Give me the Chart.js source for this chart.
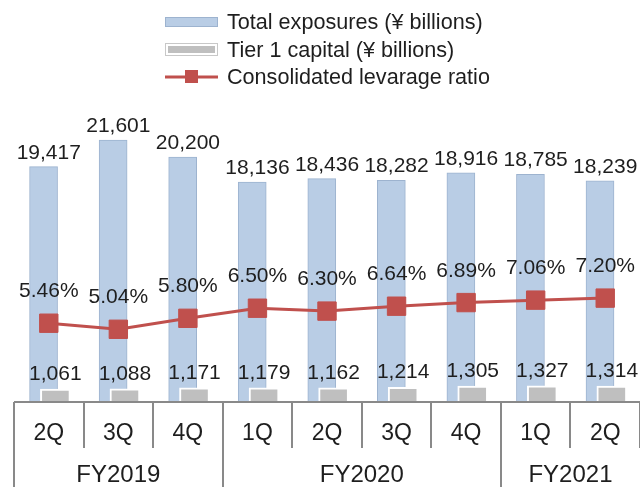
<!DOCTYPE html>
<html><head><meta charset="utf-8">
<script src="https://cdn.jsdelivr.net/npm/chart.js@4/dist/chart.umd.min.js"></script>
<style>
html,body{margin:0;padding:0;overflow:hidden;background:#fff;width:640px;height:487px}
#wrap{position:relative;width:654px;height:487px}
</style>
</head><body>
<div id="wrap"><canvas id="c" width="654" height="487"></canvas></div>
<script>
// ---- data ----
const quarters = ['2Q','3Q','4Q','1Q','2Q','3Q','4Q','1Q','2Q'];
const fiscalYearOf = ['FY2019','FY2019','FY2019','FY2020','FY2020','FY2020','FY2020','FY2021','FY2021'];
const totalExposures = [19417,21601,20200,18136,18436,18282,18916,18785,18239];
const tier1Capital = [1061,1088,1171,1179,1162,1214,1305,1327,1314];
const leverageRatio = [5.46,5.04,5.80,6.50,6.30,6.64,6.89,7.06,7.20];
const seriesNames = ['Total exposures (\u00a5 billions)','Tier 1 capital (\u00a5 billions)','Consolidated levarage ratio'];

// ---- styles ----
const BLUE='#B9CDE5', BLUE_EDGE='#9DB3CF', GRAY='#BFBFBF', RED='#C0504D', AXIS='#898989', TEXT='#1e1e1e';
const FONT='"Liberation Sans", Arial, sans-serif';
const BLUE_SHIFT=-0.075, GRAY_SHIFT=0.095;

const overlay = {
  id:'overlay',
  afterDatasetsDraw(chart){
    const {ctx, chartArea:a, scales:{x}} = chart;
    const mLine = chart.getDatasetMeta(0), mGray = chart.getDatasetMeta(1), mBlue = chart.getDatasetMeta(2);
    ctx.save();
    // axis line and dividers
    ctx.strokeStyle = AXIS; ctx.lineWidth = 2;
    ctx.beginPath(); ctx.moveTo(a.left, a.bottom); ctx.lineTo(chart.width, a.bottom); ctx.stroke();
    for (let k = 0; k <= quarters.length; k++) {
      const px = Math.round(x.getPixelForValue(k - 0.5));
      const longLine = k === 0 || (k < quarters.length && fiscalYearOf[k] !== fiscalYearOf[k-1]);
      ctx.beginPath(); ctx.moveTo(px, a.bottom); ctx.lineTo(px, longLine ? chart.height : a.bottom + 46); ctx.stroke();
    }
    ctx.fillStyle = TEXT; ctx.textAlign = 'center'; ctx.textBaseline = 'alphabetic';
    // quarter labels
    ctx.font = '23px ' + FONT;
    quarters.forEach((q,i)=> ctx.fillText(q, x.getPixelForValue(i), a.bottom + 38));
    // year labels
    ctx.font = '24px ' + FONT;
    let start = 0;
    for (let i = 1; i <= fiscalYearOf.length; i++) {
      if (i === fiscalYearOf.length || fiscalYearOf[i] !== fiscalYearOf[start]) {
        const cx = (x.getPixelForValue(start - 0.5) + x.getPixelForValue(i - 0.5)) / 2;
        ctx.fillText(fiscalYearOf[start], cx, a.bottom + 80);
        start = i;
      }
    }
    // data labels
    ctx.font = '21px ' + FONT;
    mBlue.data.forEach((el,i)=> ctx.fillText(totalExposures[i].toLocaleString('en-US'), x.getPixelForValue(i), el.y - 8));
    mGray.data.forEach((el,i)=> ctx.fillText(tier1Capital[i].toLocaleString('en-US'), el.x, el.y - 9));
    mLine.data.forEach((el,i)=> ctx.fillText(leverageRatio[i].toFixed(2) + '%', x.getPixelForValue(i), el.y - 26));
    ctx.restore();
  },
  afterDraw(chart){
    const ctx = chart.ctx;
    ctx.save();
    const bx = 165, bw = 53, tx = 227;
    // row 1
    ctx.fillStyle = BLUE; ctx.fillRect(bx, 17, bw, 10);
    ctx.strokeStyle = BLUE_EDGE; ctx.lineWidth = 1; ctx.strokeRect(bx + 0.5, 17.5, bw - 1, 9);
    // row 2
    ctx.strokeStyle = '#C8C8C8'; ctx.strokeRect(bx + 0.5, 43.5, bw - 1, 12);
    ctx.fillStyle = GRAY; ctx.fillRect(bx + 3, 46, bw - 6, 7);
    // row 3
    ctx.strokeStyle = RED; ctx.lineWidth = 3;
    ctx.beginPath(); ctx.moveTo(bx, 77); ctx.lineTo(bx + bw, 77); ctx.stroke();
    ctx.fillStyle = RED; ctx.fillRect(bx + 20, 70, 13, 13);
    ctx.fillStyle = TEXT; ctx.font = '21.6px ' + FONT; ctx.textAlign = 'left'; ctx.textBaseline = 'alphabetic';
    ctx.fillText(seriesNames[0], tx, 29);
    ctx.fillText(seriesNames[1], tx, 57);
    ctx.fillText(seriesNames[2], tx, 84);
    ctx.restore();
  }
};

new Chart(document.getElementById('c'), {
  type: 'bar',
  data: {
    datasets: [
      { type:'line', label:seriesNames[2], data: leverageRatio.map((v,i)=>({x:i, y:v})), yAxisID:'y2',
        borderColor:RED, borderWidth:3, pointStyle:'rect', pointRadius:13, pointBackgroundColor:RED,
        pointBorderColor:RED, pointBorderWidth:1, order:0 },
      { type:'bar', label:seriesNames[1], data: tier1Capital.map((v,i)=>({x:i + GRAY_SHIFT, y:v})), yAxisID:'y',
        backgroundColor:GRAY, borderColor:'#FFFFFF', borderWidth:2, grouped:false, barThickness:30, order:1 },
      { type:'bar', label:seriesNames[0], data: totalExposures.map((v,i)=>({x:i + BLUE_SHIFT, y:v})), yAxisID:'y',
        backgroundColor:BLUE, borderColor:BLUE_EDGE, borderWidth:1, grouped:false, barThickness:28, order:2 }
    ]
  },
  options: {
    responsive:false, animation:false,
    layout:{ padding:{ left:10, right:10, top:99, bottom:85 } },
    plugins:{ legend:{display:false}, tooltip:{enabled:false} },
    scales:{
      x:{ type:'linear', min:-0.5, max:8.5, offset:false, display:false },
      y:{ min:0, max:25000, display:false },
      y2:{ min:0, max:21, display:false, position:'right' }
    }
  },
  plugins:[overlay]
});
</script>
</body></html>
